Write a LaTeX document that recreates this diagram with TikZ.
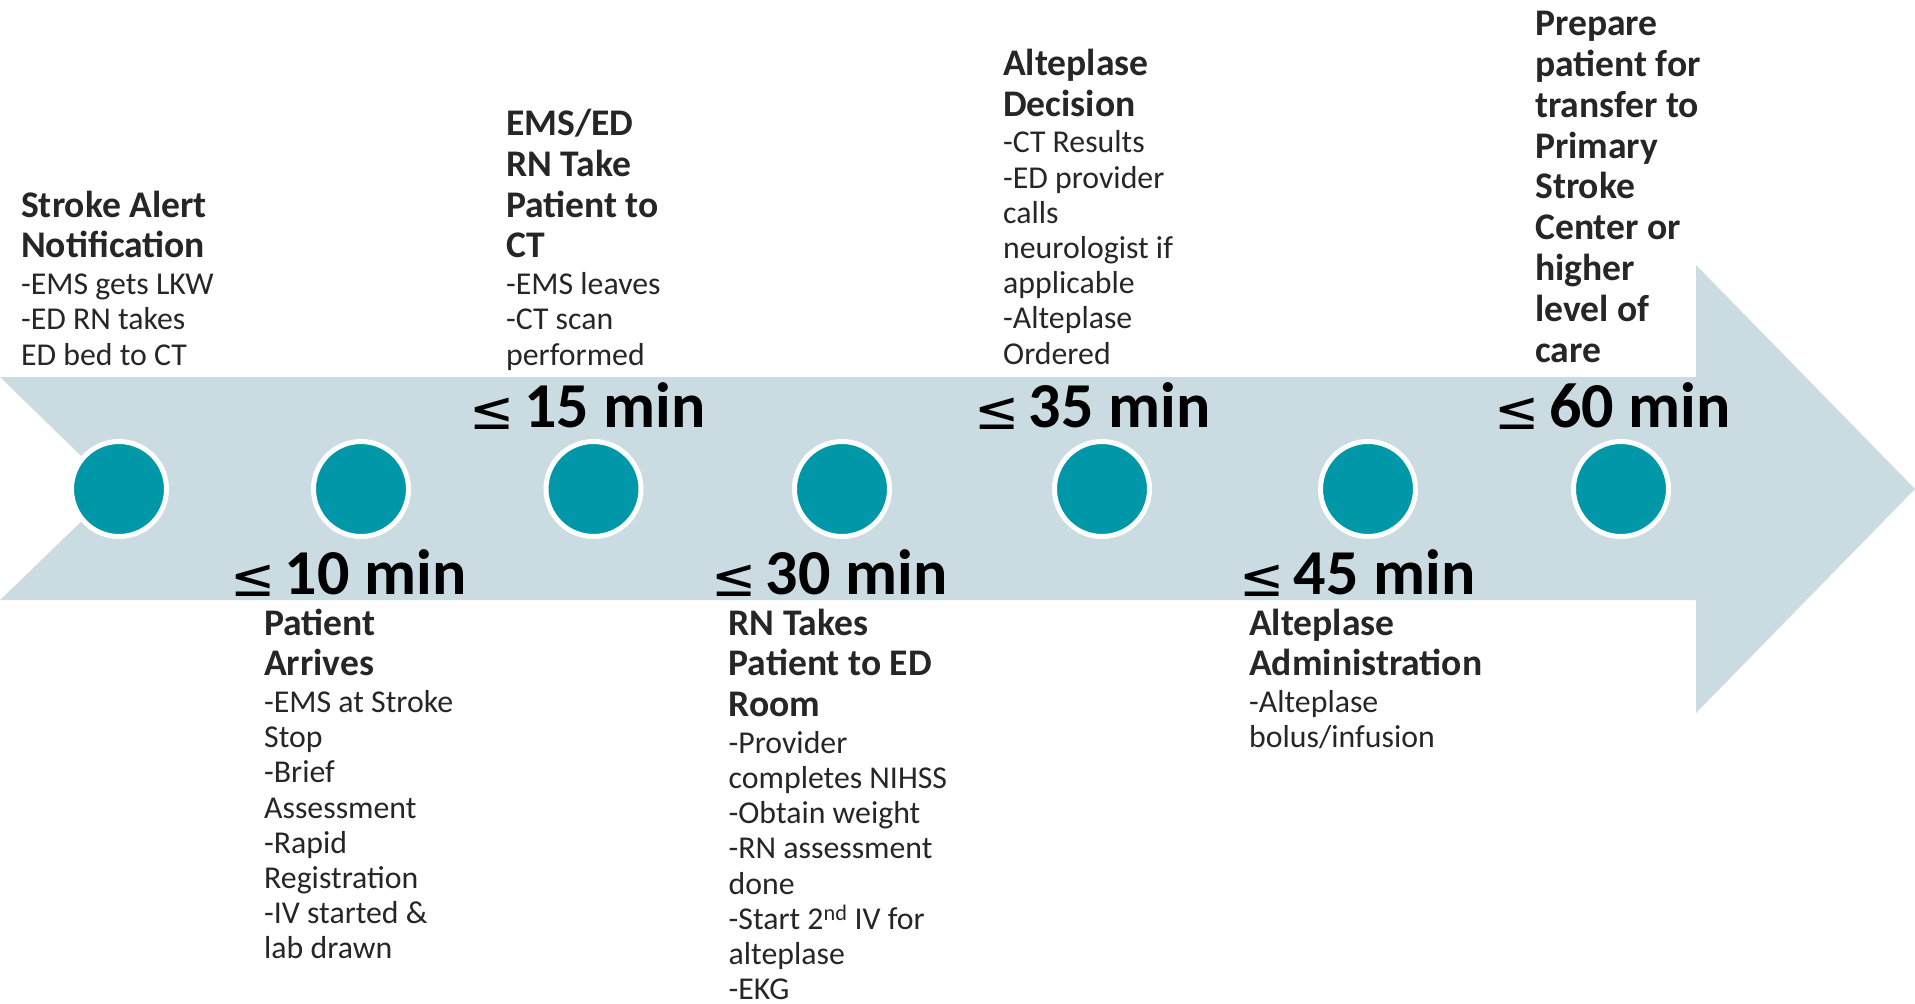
\documentclass[tikz,border=0pt]{standalone}
\usepackage{fontspec}
\setmainfont{Carlito}
\newfontfamily\symfont{DejaVu Sans}
\definecolor{bandcol}{HTML}{CADCE2}
\definecolor{dotteal}{HTML}{0098A8}
\definecolor{txtgray}{HTML}{262626}
\lineskiplimit=-100pt
\newcommand\tline[1]{\baselineskip=40.8bp\hbox{\fontsize{37.6bp}{40.8bp}\selectfont\bfseries #1}}
\newcommand\fline[1]{\baselineskip=36.7bp\hbox{\fontsize{31.8bp}{35.2bp}\selectfont #1}}
\newcommand\bline[1]{\baselineskip=35.2bp\hbox{\fontsize{31.8bp}{35.2bp}\selectfont #1}}
\newcommand\leqsym{\raisebox{-2bp}{\symfont\fontsize{54bp}{58bp}\selectfont\mdseries ≤}\hspace{9.5bp}}
\tikzset{
  dot/.style={circle, fill=dotteal, draw=white, line width=5bp, minimum size=95bp, inner sep=0pt},
  blocktext/.style={anchor=base west, inner sep=0pt, text=txtgray},
  minlab/.style={anchor=base west, inner sep=0pt, text=black, font=\fontsize{64bp}{70bp}\selectfont\bfseries}
}
\begin{document}
\begin{tikzpicture}[x=1bp, y=-1bp]
\useasboundingbox (0,0) rectangle (1915,1003);
% arrow band
\fill[bandcol] (0,377) -- (1696,377) -- (1696,265) -- (1915,489) -- (1696,713) -- (1696,600) -- (0,600) -- (115,489) -- cycle;
% dots
\node[dot] (c1) at (119,489) {};
\node[dot] (c2) at (361,489) {};
\node[dot] (c3) at (593.5,489) {};
\node[dot] (c4) at (842,489) {};
\node[dot] (c5) at (1102,489) {};
\node[dot] (c6) at (1368,489) {};
\node[dot] (c7) at (1621,489) {};
% time labels
\node[minlab] (m10) at (230,594) {\leqsym 10 min};
\node[minlab] (m15) at (469.5,427) {\leqsym 15 min};
\node[minlab] (m30) at (711,594) {\leqsym 30 min};
\node[minlab] (m35) at (974,427) {\leqsym 35 min};
\node[minlab] (m45) at (1239,594) {\leqsym 45 min};
\node[minlab] (m60) at (1494.5,427) {\leqsym 60 min};
% top text blocks
\node[blocktext] (t1) at (21,365) {\vbox{\tline{Stroke Alert}\tline{Notification}\fline{-EMS gets LKW}\bline{-ED RN takes}\bline{ED bed to CT}}};
\node[blocktext] (t3) at (506,365) {\vbox{\tline{EMS/ED}\tline{RN Take}\tline{Patient to}\tline{CT}\fline{-EMS leaves}\bline{-CT scan}\bline{performed}}};
\node[blocktext] (t5) at (1003,364) {\vbox{\tline{Alteplase}\tline{Decision}\fline{-CT Results}\bline{-ED provider}\bline{calls}\bline{neurologist if}\bline{applicable}\bline{-Alteplase}\bline{Ordered}}};
\node[blocktext] (t7) at (1535,362) {\vbox{\tline{Prepare}\tline{patient for}\tline{transfer to}\tline{Primary}\tline{Stroke}\tline{Center or}\tline{higher}\tline{level of}\tline{care}}};
% bottom text blocks
\node[blocktext] (t2) at (264,635) {\vtop{\tline{Patient}\tline{Arrives}\fline{-EMS at Stroke}\bline{Stop}\bline{-Brief}\bline{Assessment}\bline{-Rapid}\bline{Registration}\bline{-IV started \&}\bline{lab drawn}}};
\node[blocktext] (t4) at (728.5,635) {\vtop{\tline{RN Takes}\tline{Patient to ED}\tline{Room}\fline{-Provider}\bline{completes NIHSS}\bline{-Obtain weight}\bline{-RN assessment}\bline{done}\bline{-Start 2\textsuperscript{nd} IV for}\bline{alteplase}\bline{-EKG}}};
\node[blocktext] (t6) at (1249,635) {\vtop{\tline{Alteplase}\tline{Administration}\fline{-Alteplase}\bline{bolus/infusion}}};
\end{tikzpicture}
\end{document}
